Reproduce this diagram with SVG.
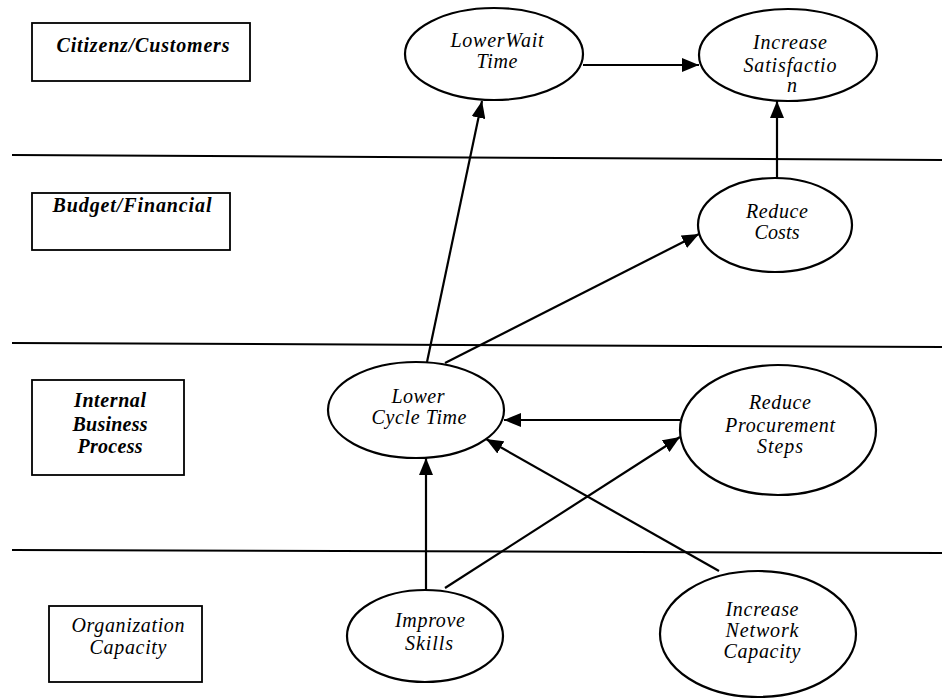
<svg xmlns="http://www.w3.org/2000/svg" width="942" height="698" viewBox="0 0 942 698">
<defs>
<marker id="ah" markerUnits="userSpaceOnUse" markerWidth="17" markerHeight="14" refX="17" refY="7" orient="auto">
<path d="M0,0 L17,7 L0,14 z" fill="#000"/>
</marker>
<style>
.t{font-family:"Liberation Serif","DejaVu Serif",serif;font-style:italic;font-size:20px;fill:#000;text-anchor:middle}
.b{font-weight:bold}
.box{fill:#fff;stroke:#000;stroke-width:1.8}
.el{fill:#fff;stroke:#000;stroke-width:2.2}
.sep{stroke:#000;stroke-width:2;fill:none}
.c{stroke:#000;stroke-width:2.2;fill:none;marker-end:url(#ah)}
</style>
</defs>
<rect width="942" height="698" fill="#fff"/>
<g id="separators">
<line class="sep" x1="12" y1="155" x2="942" y2="160"/>
<line class="sep" x1="12" y1="343" x2="942" y2="347"/>
<line class="sep" x1="12" y1="550" x2="942" y2="553"/>
</g>
<g id="lane-citizens">
<rect class="box" x="32" y="23" width="218" height="58"/>
<text class="t b" x="143" y="52" textLength="173" lengthAdjust="spacing">Citizenz/Customers</text>
</g>
<g id="lane-budget">
<rect class="box" x="32" y="193" width="198" height="57"/>
<text class="t b" x="132" y="212" textLength="159" lengthAdjust="spacing">Budget/Financial</text>
</g>
<g id="lane-internal">
<rect class="box" x="32" y="380" width="152" height="95"/>
<text class="t b" x="110" y="407" textLength="72" lengthAdjust="spacing">Internal</text>
<text class="t b" x="110" y="431" textLength="75" lengthAdjust="spacing">Business</text>
<text class="t b" x="110" y="453" textLength="65" lengthAdjust="spacing">Process</text>
</g>
<g id="lane-organization">
<rect class="box" x="49" y="606" width="153" height="76"/>
<text class="t" x="128" y="632" textLength="113" lengthAdjust="spacing">Organization</text>
<text class="t" x="128" y="654" textLength="77" lengthAdjust="spacing">Capacity</text>
</g>
<g id="connectors">
<line class="c" x1="583" y1="65" x2="699" y2="65"/>
<line class="c" x1="777" y1="178" x2="777" y2="101"/>
<line class="c" x1="427" y1="362" x2="482" y2="101"/>
<line class="c" x1="445" y1="363" x2="699" y2="234"/>
<line class="c" x1="680" y1="420" x2="504" y2="420"/>
<line class="c" x1="426" y1="590" x2="426" y2="458"/>
<line class="c" x1="445" y1="588" x2="680" y2="437"/>
<line class="c" x1="719" y1="571" x2="486" y2="439"/>
</g>
<g id="node-lower-wait-time">
<ellipse class="el" cx="494" cy="54" rx="89" ry="46"/>
<text class="t" x="497" y="47" textLength="93" lengthAdjust="spacing">LowerWait</text>
<text class="t" x="497" y="68" textLength="41" lengthAdjust="spacing">Time</text>
</g>
<g id="node-increase-satisfaction">
<ellipse class="el" cx="788" cy="55" rx="89" ry="46"/>
<text class="t" x="790" y="49" textLength="74" lengthAdjust="spacing">Increase</text>
<text class="t" x="790" y="72" textLength="93" lengthAdjust="spacing">Satisfactio</text>
<text class="t" x="792" y="92">n</text>
</g>
<g id="node-reduce-costs">
<ellipse class="el" cx="775" cy="225" rx="77" ry="47"/>
<text class="t" x="777" y="218" textLength="62" lengthAdjust="spacing">Reduce</text>
<text class="t" x="777" y="239" textLength="45" lengthAdjust="spacing">Costs</text>
</g>
<g id="node-lower-cycle-time">
<ellipse class="el" cx="416" cy="410" rx="88" ry="48"/>
<text class="t" x="418" y="403" textLength="53" lengthAdjust="spacing">Lower</text>
<text class="t" x="419" y="424" textLength="95" lengthAdjust="spacing">Cycle Time</text>
</g>
<g id="node-reduce-procurement-steps">
<ellipse class="el" cx="778" cy="430" rx="98" ry="65"/>
<text class="t" x="780" y="409" textLength="62" lengthAdjust="spacing">Reduce</text>
<text class="t" x="780" y="432" textLength="110" lengthAdjust="spacing">Procurement</text>
<text class="t" x="780" y="453" textLength="46" lengthAdjust="spacing">Steps</text>
</g>
<g id="node-improve-skills">
<ellipse class="el" cx="425" cy="636" rx="78" ry="46"/>
<text class="t" x="430" y="627" textLength="70" lengthAdjust="spacing">Improve</text>
<text class="t" x="429" y="650" textLength="48" lengthAdjust="spacing">Skills</text>
</g>
<g id="node-increase-network-capacity">
<ellipse class="el" cx="758" cy="634" rx="98" ry="63"/>
<text class="t" x="762" y="616" textLength="73" lengthAdjust="spacing">Increase</text>
<text class="t" x="762" y="637" textLength="73" lengthAdjust="spacing">Network</text>
<text class="t" x="762" y="658" textLength="77" lengthAdjust="spacing">Capacity</text>
</g>
</svg>
